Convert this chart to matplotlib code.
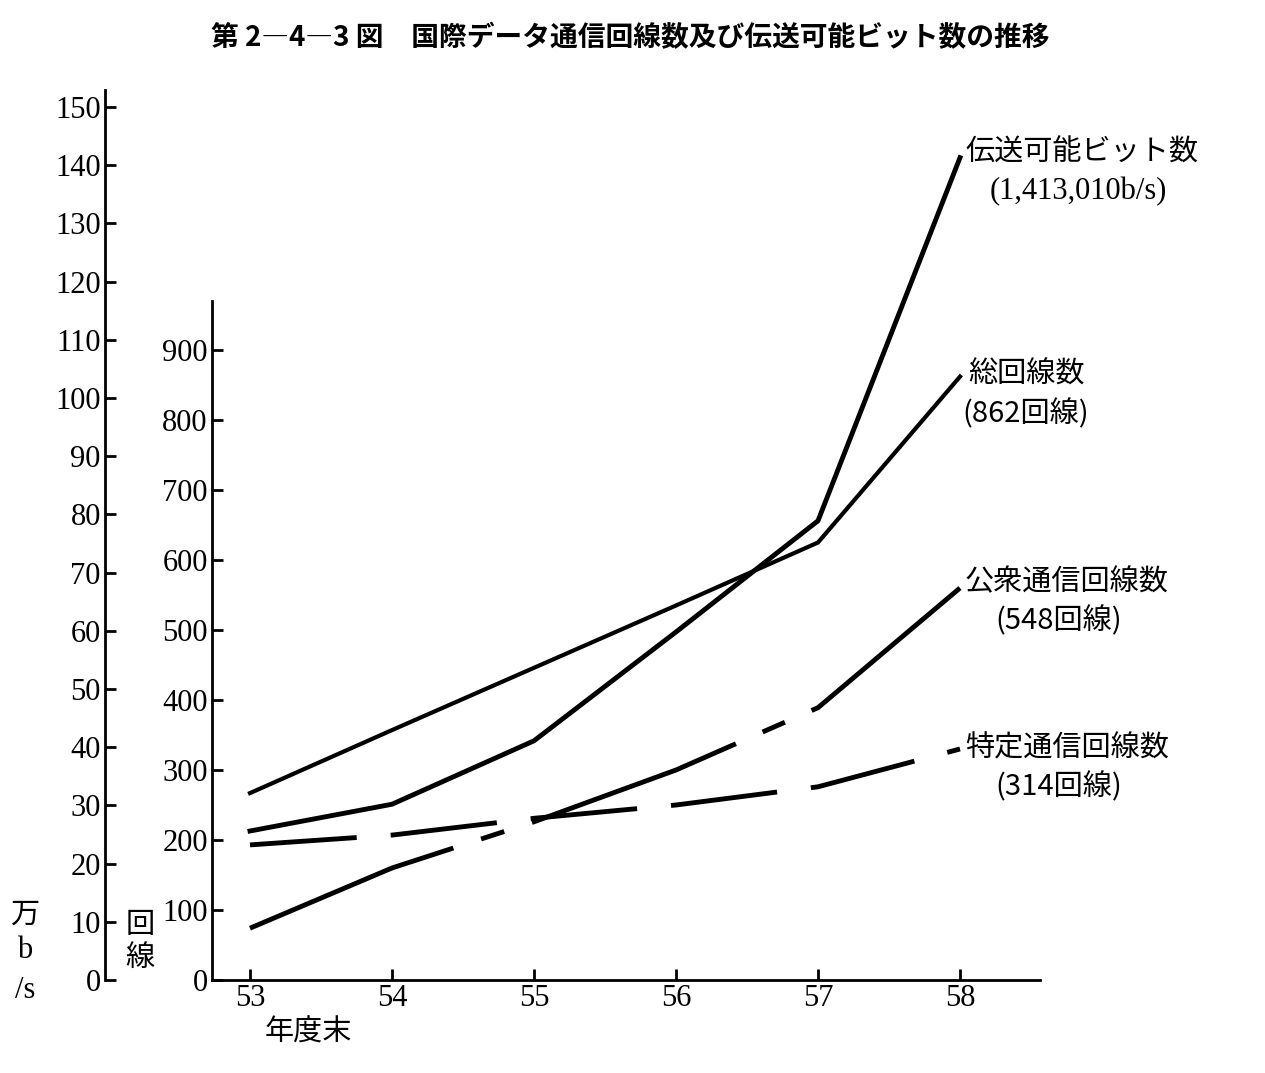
import matplotlib
matplotlib.use("Agg")
import matplotlib.pyplot as plt

years = [53, 54, 55, 56, 57, 58]
year_labels = ["53", "54", "55", "56", "57", "58"]
bits_man = [25.6, 30.2, 41.1, 59.8, 78.9, 141.3]       # 万b/s (left axis)
total_lines = [267, 357, 446, 535, 625, 862]            # 回線
public_lines = [74, 160, 226, 300, 389, 560]
specific_lines = [193, 207, 231, 250, 276, 330]

W, H = 1265, 1073
fig = plt.figure(figsize=(W/100, H/100), dpi=100)
JP = "Noto Sans CJK JP"
SERIF = "Liberation Serif"

def fx(p): return p / W
def fy(p): return 1 - p / H

x0, x1, ytop, ybot = 212, 1040, 95, 980
ax = fig.add_axes([fx(x0), fy(ybot), fx(x1) - fx(x0), fy(ytop) - fy(ybot)])
ax.set_xlim(53 - 38/142, 58 + 80/142)
ax.set_ylim(0, (ybot - ytop) / 0.7)
for s in ["top", "right"]:
    ax.spines[s].set_visible(False)
ax.spines["left"].set_bounds(0, 970)
for s in ["left", "bottom"]:
    ax.spines[s].set_linewidth(2)
ax.set_yticks(range(0, 1000, 100))
ax.set_yticklabels([str(v) for v in range(0, 1000, 100)], fontfamily=SERIF, fontsize=22)
ax.set_xticks(years)
ax.set_xticklabels(year_labels, fontfamily=SERIF, fontsize=22)
ax.tick_params(direction="in", length=8, width=2, pad=3)

ax2 = ax.twinx()
ax2.set_ylim(0, (ybot - ytop) / 58.2 * 10)
ax2.yaxis.set_ticks_position("left")
ax2.spines["left"].set_position(("axes", (105 - x0) / (x1 - x0)))
for s in ["top", "right", "bottom"]:
    ax2.spines[s].set_visible(False)
ax2.spines["left"].set_linewidth(2)
ax2.spines["left"].set_bounds(0, 153)
ax2.set_yticks(range(0, 160, 10))
ax2.set_yticklabels([str(v) for v in range(0, 160, 10)], fontfamily=SERIF, fontsize=22)
ax2.tick_params(direction="in", length=8, width=2, pad=3)

ax.plot(years, total_lines, color="black", lw=3)
ax.plot(years, public_lines, color="black", lw=3.5, dashes=(45, 6, 5, 6))
ax.plot(years, specific_lines, color="black", lw=3.5, dashes=(22, 7))
ax2.plot(years, bits_man, color="black", lw=3.5)

fig.text(fx(630), fy(38), "第 2―4―3 図　国際データ通信回線数及び伝送可能ビット数の推移",
         ha="center", va="center", fontfamily=JP, fontsize=20, fontweight="bold")
lab = dict(fontfamily=JP, fontsize=21, va="center")
fig.text(fx(965), fy(153), "伝送可能ビット数", **lab)
fig.text(fx(990), fy(192), "(1,413,010b/s)", fontfamily=SERIF, fontsize=22, va="center")
fig.text(fx(968), fy(375), "総回線数", **lab)
fig.text(fx(962), fy(414), "(862回線)", **lab)
fig.text(fx(965), fy(582), "公衆通信回線数", **lab)
fig.text(fx(995), fy(621), "(548回線)", **lab)
fig.text(fx(965), fy(748), "特定通信回線数", **lab)
fig.text(fx(995), fy(787), "(314回線)", **lab)
fig.text(fx(265), fy(1033), "年度末", **lab)
fig.text(fx(25), fy(915), "万", **lab, ha="center")
fig.text(fx(25), fy(950), "b", fontfamily=SERIF, fontsize=22, va="center", ha="center")
fig.text(fx(25), fy(990), "/s", fontfamily=SERIF, fontsize=22, va="center", ha="center")
fig.text(fx(140), fy(925), "回", **lab, ha="center")
fig.text(fx(140), fy(958), "線", **lab, ha="center")

fig.savefig("out.png", dpi=100)
